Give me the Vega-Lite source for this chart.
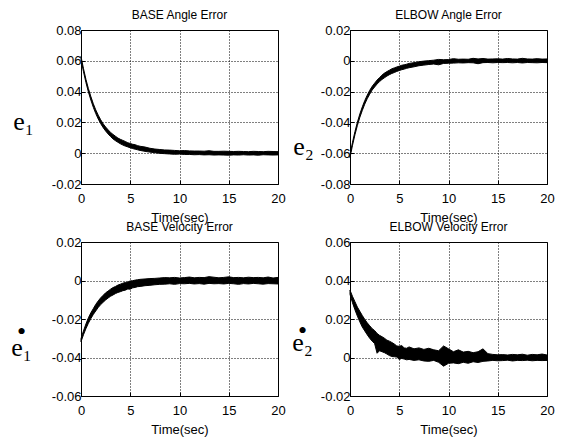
{
  "$schema": "https://vega.github.io/schema/vega-lite/v6.json",
  "padding": {"left": 10, "top": 8, "right": 5, "bottom": 5},
  "background": "white",
  "bounds": "flush",
  "columns": 2,
  "spacing": {"row": 58, "column": 72},
  "datasets": {
    "a": [
      {"t":0,"lo":0.0610,"hi":0.0628},{"t":0.25,"lo":0.0530,"hi":0.0550},{"t":0.5,"lo":0.0459,"hi":0.0480},{"t":0.75,"lo":0.0398,"hi":0.0420},
      {"t":1,"lo":0.0345,"hi":0.0368},{"t":1.25,"lo":0.0298,"hi":0.0321},{"t":1.5,"lo":0.0257,"hi":0.0281},{"t":1.75,"lo":0.0222,"hi":0.0247},
      {"t":2,"lo":0.0192,"hi":0.0217},{"t":2.25,"lo":0.0166,"hi":0.0191},{"t":2.5,"lo":0.0144,"hi":0.0170},{"t":2.75,"lo":0.0125,"hi":0.0152},
      {"t":3,"lo":0.0108,"hi":0.0135},{"t":3.25,"lo":0.0093,"hi":0.0122},{"t":3.5,"lo":0.0081,"hi":0.0110},{"t":3.75,"lo":0.0071,"hi":0.0098},
      {"t":4,"lo":0.0061,"hi":0.0090},{"t":4.25,"lo":0.0053,"hi":0.0083},{"t":4.5,"lo":0.0046,"hi":0.0076},{"t":4.75,"lo":0.0041,"hi":0.0068},
      {"t":5,"lo":0.0035,"hi":0.0063},{"t":5.25,"lo":0.0030,"hi":0.0058},{"t":5.5,"lo":0.0026,"hi":0.0055},{"t":5.75,"lo":0.0022,"hi":0.0049},
      {"t":6,"lo":0.0018,"hi":0.0045},{"t":6.5,"lo":0.0012,"hi":0.0040},{"t":7,"lo":0.0007,"hi":0.0032},{"t":7.5,"lo":0.0003,"hi":0.0027},
      {"t":8,"lo":-0.0001,"hi":0.0024},{"t":8.5,"lo":-0.0003,"hi":0.0021},{"t":9,"lo":-0.0005,"hi":0.0020},{"t":9.5,"lo":-0.0007,"hi":0.0018},
      {"t":10,"lo":-0.0006,"hi":0.0016},{"t":10.5,"lo":-0.0008,"hi":0.0017},{"t":11,"lo":-0.0008,"hi":0.0015},{"t":11.5,"lo":-0.0010,"hi":0.0014},
      {"t":12,"lo":-0.0009,"hi":0.0014},{"t":12.5,"lo":-0.0011,"hi":0.0013},{"t":13,"lo":-0.0010,"hi":0.0016},{"t":13.5,"lo":-0.0012,"hi":0.0012},
      {"t":14,"lo":-0.0011,"hi":0.0012},{"t":14.5,"lo":-0.0012,"hi":0.0013},{"t":15,"lo":-0.0013,"hi":0.0012},{"t":15.5,"lo":-0.0011,"hi":0.0011},
      {"t":16,"lo":-0.0012,"hi":0.0012},{"t":16.5,"lo":-0.0010,"hi":0.0011},{"t":17,"lo":-0.0012,"hi":0.0010},{"t":17.5,"lo":-0.0011,"hi":0.0012},
      {"t":18,"lo":-0.0013,"hi":0.0011},{"t":18.5,"lo":-0.0010,"hi":0.0010},{"t":19,"lo":-0.0011,"hi":0.0012},{"t":19.5,"lo":-0.0012,"hi":0.0011},
      {"t":20,"lo":-0.0011,"hi":0.0010}
    ],
    "b": [
      {"t":0,"lo":-0.0628,"hi":-0.0610},{"t":0.25,"lo":-0.0550,"hi":-0.0531},{"t":0.5,"lo":-0.0481,"hi":-0.0460},{"t":0.75,"lo":-0.0420,"hi":-0.0399},
      {"t":1,"lo":-0.0367,"hi":-0.0345},{"t":1.25,"lo":-0.0322,"hi":-0.0299},{"t":1.5,"lo":-0.0281,"hi":-0.0258},{"t":1.75,"lo":-0.0246,"hi":-0.0223},
      {"t":2,"lo":-0.0217,"hi":-0.0192},{"t":2.25,"lo":-0.0190,"hi":-0.0166},{"t":2.5,"lo":-0.0170,"hi":-0.0145},{"t":2.75,"lo":-0.0151,"hi":-0.0125},
      {"t":3,"lo":-0.0135,"hi":-0.0109},{"t":3.25,"lo":-0.0121,"hi":-0.0093},{"t":3.5,"lo":-0.0110,"hi":-0.0080},{"t":3.75,"lo":-0.0099,"hi":-0.0070},
      {"t":4,"lo":-0.0090,"hi":-0.0061},{"t":4.25,"lo":-0.0082,"hi":-0.0052},{"t":4.5,"lo":-0.0076,"hi":-0.0046},{"t":4.75,"lo":-0.0069,"hi":-0.0040},
      {"t":5,"lo":-0.0063,"hi":-0.0035},{"t":5.25,"lo":-0.0058,"hi":-0.0029},{"t":5.5,"lo":-0.0054,"hi":-0.0026},{"t":5.75,"lo":-0.0049,"hi":-0.0022},
      {"t":6,"lo":-0.0045,"hi":-0.0017},{"t":6.5,"lo":-0.0039,"hi":-0.0012},{"t":7,"lo":-0.0032,"hi":-0.0006},{"t":7.5,"lo":-0.0028,"hi":-0.0002},
      {"t":8,"lo":-0.0024,"hi":0.0001},{"t":8.5,"lo":-0.0021,"hi":0.0004},{"t":9,"lo":-0.0026,"hi":0.0009},{"t":9.5,"lo":-0.0017,"hi":0.0007},
      {"t":10,"lo":-0.0016,"hi":0.0008},{"t":10.5,"lo":-0.0015,"hi":0.0014},{"t":11,"lo":-0.0013,"hi":0.0010},{"t":11.5,"lo":-0.0014,"hi":0.0011},
      {"t":12,"lo":-0.0012,"hi":0.0010},{"t":12.5,"lo":-0.0013,"hi":0.0016},{"t":13,"lo":-0.0019,"hi":0.0012},{"t":13.5,"lo":-0.0012,"hi":0.0015},
      {"t":14,"lo":-0.0011,"hi":0.0011},{"t":14.5,"lo":-0.0013,"hi":0.0012},{"t":15,"lo":-0.0011,"hi":0.0013},{"t":15.5,"lo":-0.0012,"hi":0.0011},
      {"t":16,"lo":-0.0011,"hi":0.0015},{"t":16.5,"lo":-0.0013,"hi":0.0012},{"t":17,"lo":-0.0011,"hi":0.0011},{"t":17.5,"lo":-0.0014,"hi":0.0016},
      {"t":18,"lo":-0.0011,"hi":0.0012},{"t":18.5,"lo":-0.0012,"hi":0.0011},{"t":19,"lo":-0.0013,"hi":0.0014},{"t":19.5,"lo":-0.0011,"hi":0.0011},
      {"t":20,"lo":-0.0012,"hi":0.0012}
    ],
    "c": [
      {"t":0,"lo":-0.0318,"hi":-0.0302},{"t":0.25,"lo":-0.0282,"hi":-0.0262},{"t":0.5,"lo":-0.0250,"hi":-0.0226},{"t":0.75,"lo":-0.0222,"hi":-0.0194},
      {"t":1,"lo":-0.0198,"hi":-0.0168},{"t":1.25,"lo":-0.0176,"hi":-0.0146},{"t":1.5,"lo":-0.0158,"hi":-0.0124},{"t":1.75,"lo":-0.0140,"hi":-0.0106},
      {"t":2,"lo":-0.0125,"hi":-0.0090},{"t":2.25,"lo":-0.0113,"hi":-0.0077},{"t":2.5,"lo":-0.0101,"hi":-0.0064},{"t":2.75,"lo":-0.0091,"hi":-0.0055},
      {"t":3,"lo":-0.0082,"hi":-0.0045},{"t":3.25,"lo":-0.0075,"hi":-0.0037},{"t":3.5,"lo":-0.0068,"hi":-0.0031},{"t":3.75,"lo":-0.0062,"hi":-0.0024},
      {"t":4,"lo":-0.0058,"hi":-0.0019},{"t":4.25,"lo":-0.0053,"hi":-0.0014},{"t":4.5,"lo":-0.0050,"hi":-0.0010},{"t":4.75,"lo":-0.0044,"hi":-0.0008},
      {"t":5,"lo":-0.0045,"hi":-0.0002},{"t":5.25,"lo":-0.0038,"hi":-0.0001},{"t":5.5,"lo":-0.0036,"hi":0.0002},{"t":5.75,"lo":-0.0032,"hi":0.0004},
      {"t":6,"lo":-0.0031,"hi":0.0006},{"t":6.5,"lo":-0.0027,"hi":0.0008},{"t":7,"lo":-0.0025,"hi":0.0010},{"t":7.5,"lo":-0.0022,"hi":0.0011},
      {"t":8,"lo":-0.0020,"hi":0.0013},{"t":8.5,"lo":-0.0019,"hi":0.0015},{"t":9,"lo":-0.0017,"hi":0.0014},{"t":9.5,"lo":-0.0020,"hi":0.0016},
      {"t":10,"lo":-0.0016,"hi":0.0013},{"t":10.5,"lo":-0.0017,"hi":0.0015},{"t":11,"lo":-0.0015,"hi":0.0018},{"t":11.5,"lo":-0.0018,"hi":0.0014},
      {"t":12,"lo":-0.0016,"hi":0.0016},{"t":12.5,"lo":-0.0019,"hi":0.0015},{"t":13,"lo":-0.0015,"hi":0.0020},{"t":13.5,"lo":-0.0017,"hi":0.0017},
      {"t":14,"lo":-0.0016,"hi":0.0014},{"t":14.5,"lo":-0.0018,"hi":0.0016},{"t":15,"lo":-0.0015,"hi":0.0019},{"t":15.5,"lo":-0.0017,"hi":0.0015},
      {"t":16,"lo":-0.0020,"hi":0.0016},{"t":16.5,"lo":-0.0016,"hi":0.0014},{"t":17,"lo":-0.0018,"hi":0.0017},{"t":17.5,"lo":-0.0015,"hi":0.0015},
      {"t":18,"lo":-0.0017,"hi":0.0016},{"t":18.5,"lo":-0.0019,"hi":0.0014},{"t":19,"lo":-0.0016,"hi":0.0018},{"t":19.5,"lo":-0.0017,"hi":0.0013},
      {"t":20,"lo":-0.0018,"hi":0.0016}
    ],
    "d": [
      {"t":0,"lo":0.0328,"hi":0.0350},{"t":0.25,"lo":0.0285,"hi":0.0318},{"t":0.5,"lo":0.0248,"hi":0.0290},{"t":0.75,"lo":0.0215,"hi":0.0262},
      {"t":1,"lo":0.0185,"hi":0.0240},{"t":1.25,"lo":0.0158,"hi":0.0218},{"t":1.5,"lo":0.0138,"hi":0.0198},{"t":1.75,"lo":0.0118,"hi":0.0180},
      {"t":2,"lo":0.0100,"hi":0.0165},{"t":2.25,"lo":0.0085,"hi":0.0150},{"t":2.5,"lo":0.0072,"hi":0.0140},{"t":2.75,"lo":0.0022,"hi":0.0125},
      {"t":3,"lo":0.0035,"hi":0.0115},{"t":3.25,"lo":0.0030,"hi":0.0108},{"t":3.5,"lo":0.0025,"hi":0.0100},{"t":3.75,"lo":0.0018,"hi":0.0090},
      {"t":4,"lo":0.0010,"hi":0.0085},{"t":4.25,"lo":0.0005,"hi":0.0078},{"t":4.5,"lo":0.0004,"hi":0.0070},{"t":4.75,"lo":0.0002,"hi":0.0060},
      {"t":5,"lo":-0.0010,"hi":0.0058},{"t":5.25,"lo":-0.0005,"hi":0.0062},{"t":5.5,"lo":-0.0008,"hi":0.0050},{"t":5.75,"lo":-0.0012,"hi":0.0048},
      {"t":6,"lo":-0.0010,"hi":0.0055},{"t":6.5,"lo":-0.0015,"hi":0.0045},{"t":7,"lo":-0.0012,"hi":0.0050},{"t":7.5,"lo":-0.0018,"hi":0.0042},
      {"t":8,"lo":-0.0020,"hi":0.0048},{"t":8.5,"lo":-0.0015,"hi":0.0040},{"t":9,"lo":-0.0025,"hi":0.0035},{"t":9.5,"lo":-0.0045,"hi":0.0060},
      {"t":10,"lo":-0.0030,"hi":0.0045},{"t":10.5,"lo":-0.0028,"hi":0.0030},{"t":11,"lo":-0.0032,"hi":0.0040},{"t":11.5,"lo":-0.0025,"hi":0.0028},
      {"t":12,"lo":-0.0030,"hi":0.0032},{"t":12.5,"lo":-0.0022,"hi":0.0025},{"t":13,"lo":-0.0026,"hi":0.0030},{"t":13.5,"lo":-0.0020,"hi":0.0045},
      {"t":14,"lo":-0.0018,"hi":0.0020},{"t":14.5,"lo":-0.0015,"hi":0.0016},{"t":15,"lo":-0.0017,"hi":0.0014},{"t":15.5,"lo":-0.0016,"hi":0.0015},
      {"t":16,"lo":-0.0014,"hi":0.0013},{"t":16.5,"lo":-0.0018,"hi":0.0016},{"t":17,"lo":-0.0015,"hi":0.0014},{"t":17.5,"lo":-0.0016,"hi":0.0017},
      {"t":18,"lo":-0.0014,"hi":0.0012},{"t":18.5,"lo":-0.0017,"hi":0.0016},{"t":19,"lo":-0.0015,"hi":0.0014},{"t":19.5,"lo":-0.0016,"hi":0.0018},
      {"t":20,"lo":-0.0015,"hi":0.0013}
    ]
  },
  "concat": [
    {
      "data": {"name": "a"},
      "title": "BASE Angle Error",
      "width": 197, "height": 154,
      "mark": {"type": "area", "color": "black", "stroke": "black", "strokeWidth": 1},
      "encoding": {
        "x": {"field": "t", "type": "quantitative", "scale": {"domain": [0, 20]}, "axis": {"values": [0, 5, 10, 15, 20], "title": "Time(sec)"}},
        "y": {"field": "lo", "type": "quantitative", "scale": {"domain": [-0.02, 0.08]},
              "axis": {"values": [-0.02, 0, 0.02, 0.04, 0.06, 0.08], "title": "e₁", "titleX": -58, "titleY": 91}},
        "y2": {"field": "hi"}
      }
    },
    {
      "data": {"name": "b"},
      "title": "ELBOW Angle Error",
      "width": 197, "height": 154,
      "mark": {"type": "area", "color": "black", "stroke": "black", "strokeWidth": 1},
      "encoding": {
        "x": {"field": "t", "type": "quantitative", "scale": {"domain": [0, 20]}, "axis": {"values": [0, 5, 10, 15, 20], "title": "Time(sec)"}},
        "y": {"field": "lo", "type": "quantitative", "scale": {"domain": [-0.08, 0.02]},
              "axis": {"values": [-0.08, -0.06, -0.04, -0.02, 0, 0.02], "title": "e₂", "titleX": -47, "titleY": 116}},
        "y2": {"field": "hi"}
      }
    },
    {
      "data": {"name": "c"},
      "title": "BASE Velocity Error",
      "width": 197, "height": 154,
      "mark": {"type": "area", "color": "black", "stroke": "black", "strokeWidth": 1},
      "encoding": {
        "x": {"field": "t", "type": "quantitative", "scale": {"domain": [0, 20]}, "axis": {"values": [0, 5, 10, 15, 20], "title": "Time(sec)"}},
        "y": {"field": "lo", "type": "quantitative", "scale": {"domain": [-0.06, 0.02]},
              "axis": {"values": [-0.06, -0.04, -0.02, 0, 0.02], "title": ["•", "e₁"], "titleLineHeight": 16, "titleX": -60, "titleY": 89}},
        "y2": {"field": "hi"}
      }
    },
    {
      "data": {"name": "d"},
      "title": "ELBOW Velocity Error",
      "width": 197, "height": 154,
      "mark": {"type": "area", "color": "black", "stroke": "black", "strokeWidth": 1},
      "encoding": {
        "x": {"field": "t", "type": "quantitative", "scale": {"domain": [0, 20]}, "axis": {"values": [0, 5, 10, 15, 20], "title": "Time(sec)"}},
        "y": {"field": "lo", "type": "quantitative", "scale": {"domain": [-0.02, 0.06]},
              "axis": {"values": [-0.02, 0, 0.02, 0.04, 0.06], "title": ["•", "e₂"], "titleLineHeight": 12, "titleX": -48, "titleY": 88}},
        "y2": {"field": "hi"}
      }
    }
  ],
  "config": {
    "font": "Liberation Sans",
    "view": {"stroke": "black", "strokeWidth": 1},
    "axis": {
      "domain": false, "ticks": true, "tickSize": -4, "tickColor": "black", "tickWidth": 1, "grid": true,
      "gridColor": "black", "gridDash": [1, 2], "gridOpacity": 1, "gridWidth": 1,
      "labelFont": "Liberation Sans", "labelFontSize": 13, "labelColor": "black",
      "titleFont": "Liberation Sans", "titleFontSize": 13, "titleFontWeight": 400, "titleColor": "black",
      "labelOverlap": false
    },
    "axisX": {"labelPadding": 12, "titlePadding": 6, "labelFlush": false},
    "axisY": {
      "labelPadding": 4, "labelFlush": false,
      "labelExpr": "abs(datum.value) < 1e-9 ? '0' : (datum.value < 0 ? '-' + format(-datum.value, '.2f') : format(datum.value, '.2f'))",
      "titleFont": "Liberation Serif", "titleFontSize": 26, "titleAngle": 0, "titleAlign": "center", "titleBaseline": "middle"
    },
    "title": {"fontSize": 12, "fontWeight": 400, "font": "Liberation Sans", "color": "black", "offset": 2, "anchor": "middle"}
  }
}
